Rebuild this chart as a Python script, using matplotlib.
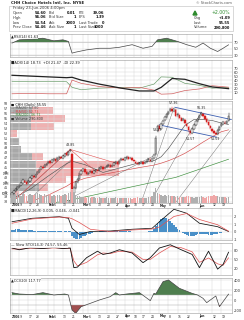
import matplotlib
matplotlib.use('Agg')
import matplotlib.pyplot as plt
from matplotlib.patches import Rectangle, Polygon
import numpy as np

# ---------------- data ----------------
date_ticks = [0, 4, 9, 13, 20, 23, 28, 33, 39, 42, 47, 52, 57, 62, 67, 71, 76, 81, 86, 91, 96, 103, 110, 115]
date_labels = ['2006', '9', '17', '23', 'Feb', '6', '13', '21', 'Mar', '6', '13', '20', '27',
               'Apr', '10', '17', '24', 'May', '8', '15', '22', 'Jun', '12', '19']
bold_labels = {'2006', 'Feb', 'Mar', 'Apr', 'May', 'Jun'}

close = [39.8,40.2,40.6,41.0,41.3,41.8,42.4,42.0,41.7,42.2, 42.8,43.2,43.0,43.5,44.0,44.6,45.2,45.0,45.6,45.8,
         46.2,46.0,46.5,46.8,46.4,46.9,47.2,46.9,47.3,47.8, 47.5,48.2,48.6,39.6,40.8,42.0,42.6,43.5,44.3,44.8,
         44.0,43.6,43.9,44.2,43.8,44.3,44.6,44.4,44.9,45.1, 44.8,45.0,45.3,45.6,45.2,45.4,45.9,46.2,45.8,46.4,
         46.8,46.5,46.9,47.2,46.8,47.0,46.6,46.3,46.0,45.7, 45.9,46.2,45.8,46.0,46.4,46.7,46.3,46.8,47.5,51.0,
         53.4,52.8,53.8,54.6,55.3,55.9,56.4,57.0,56.6,56.9, 55.6,55.9,55.2,54.6,54.9,54.0,53.4,52.6,52.0,52.8,
         53.6,54.4,55.0,55.6,56.1,55.6,55.0,54.3,53.6,53.0, 52.5,52.0,51.8,52.6,53.3,53.8,54.2,54.0,54.46,55.55]
open_ = [39.5,39.9,40.3,40.7,41.1,41.4,41.9,42.3,42.0,41.8, 42.3,42.9,43.2,43.1,43.6,44.1,44.7,45.1,45.1,45.6,
         45.9,46.3,46.1,46.6,46.8,46.5,47.0,47.2,47.0,47.4, 47.9,47.6,48.3,47.8,39.9,40.9,42.1,42.7,43.6,44.4,
         44.7,44.1,43.7,44.0,44.2,43.9,44.4,44.6,44.5,45.0, 45.1,44.9,45.1,45.4,45.6,45.3,45.5,46.0,46.1,45.9,
         46.5,46.8,46.6,47.0,47.1,46.9,47.0,46.5,46.2,45.9, 45.8,46.0,46.1,45.9,46.1,46.5,46.6,46.4,47.0,47.8,
         52.5,53.5,52.9,53.9,54.7,55.4,56.0,56.5,57.0,56.5, 56.8,55.7,55.8,55.1,54.7,54.8,53.9,53.3,52.5,52.1,
         52.9,53.7,54.5,55.1,55.7,56.0,55.5,55.0,54.2,53.5, 52.9,52.4,52.1,51.9,52.7,53.4,53.9,54.1,54.1,54.60]
high = [40.0,40.4,40.8,41.2,41.5,42.0,42.6,42.5,42.2,42.4, 43.0,43.4,43.4,43.7,44.2,44.8,45.4,45.4,45.8,46.0,
        46.4,46.5,46.7,47.0,47.0,47.1,47.4,47.4,47.5,48.0, 48.1,48.4,48.85,47.9,41.2,42.3,42.8,43.8,44.6,45.0,
        44.9,44.2,44.1,44.4,44.4,44.5,44.8,44.8,45.1,45.3, 45.3,45.2,45.5,45.8,45.8,45.6,46.1,46.4,46.3,46.6,
        47.0,47.0,47.1,47.4,47.3,47.2,47.2,46.6,46.4,46.1, 46.1,46.4,46.3,46.2,46.6,46.9,46.9,47.0,47.7,51.4,
        53.7,53.7,54.0,54.8,55.5,56.1,56.6,57.2,57.36,57.0, 57.0,56.1,56.0,55.3,55.1,55.0,54.1,53.5,52.7,53.0,
        53.8,54.6,55.2,55.8,56.35,56.2,55.7,55.2,54.4,53.7, 53.1,52.6,52.3,52.8,53.5,54.0,54.4,54.4,54.6,56.06]
low = [39.3,39.7,40.1,40.5,40.9,41.2,41.7,41.8,41.5,41.6, 42.1,42.7,42.8,42.9,43.4,43.9,44.5,44.8,44.9,45.4,
       45.7,45.8,45.9,46.4,46.2,46.3,46.8,46.7,46.8,47.2, 47.3,47.4,48.1,38.7,39.5,40.6,41.9,42.5,43.4,44.2,
       43.8,43.4,43.5,43.8,43.6,43.7,44.2,44.2,44.3,44.8, 44.6,44.7,44.9,45.2,45.0,45.1,45.3,45.8,45.6,45.7,
       46.3,46.3,46.4,46.8,46.6,46.7,46.4,46.1,45.8,45.5, 45.6,45.8,45.6,45.7,45.9,46.3,46.1,46.2,46.8,47.6,
       52.2,52.5,52.7,53.7,54.5,55.2,55.8,56.3,56.3,56.3, 55.4,55.3,55.0,54.4,54.4,53.8,53.2,52.3,51.57,51.9,
       52.7,53.5,54.3,54.9,55.5,55.4,54.8,54.1,53.4,52.8, 52.3,51.8,51.59,51.7,52.5,53.2,53.7,53.8,53.9,54.54]
volume_k = [420,380,450,500,400,380,520,460,350,400, 480,420,390,450,500,470,430,380,460,410,
            400,450,380,420,360,390,410,370,430,480, 420,500,560,720,540,420,380,350,330,300,
            320,280,300,260,290,310,270,250,300,280, 260,240,290,270,250,230,280,300,260,240,
            270,250,230,260,280,240,220,250,270,300, 260,240,280,250,230,300,320,380,560,760,
            520,450,400,380,420,360,390,340,380,350, 320,360,300,330,290,310,350,380,330,300,
            280,320,290,310,340,300,280,330,360,380, 350,400,380,340,300,320,290,310,280,291]
volume_ticks = [500, 1000, 1500]
volume_tick_labels = ['500K', '1.0M', '1.5M']

# volume by price zones (price bottom, price top), up volume, down volume (thousands)
vbp_bottom = [38.7, 40.26, 41.82, 43.37, 44.93, 46.49, 48.04, 49.6, 51.16, 52.71, 54.27, 55.83]
vbp_top =    [40.26, 41.82, 43.37, 44.93, 46.49, 48.04, 49.6, 51.16, 52.71, 54.27, 55.83, 57.38]
vbp_up =     [500, 2900, 2200, 2600, 2600, 2200, 1100, 900, 0, 2100, 2100, 2200]
vbp_down =   [400, 900, 3400, 8300, 8300, 1100, 0, 0, 700, 2300, 3400, 2100]

ma_idx = [0, 10, 20, 30, 33, 40, 50, 60, 70, 78, 82, 86, 90, 95, 100, 105, 110, 115, 119]
ma20 = [38.6, 40.6, 43.3, 45.8, 46.3, 45.6, 44.0, 45.0, 46.0, 46.4, 47.2, 48.9, 51.0, 53.6, 54.8, 54.8, 54.6, 54.1, 53.8]
ma50 = [37.0, 38.0, 39.4, 41.2, 41.9, 42.8, 43.6, 44.3, 45.0, 45.5, 45.9, 46.4, 47.0, 47.9, 49.0, 50.2, 51.3, 52.3, 52.7]
ma200_idx = [0, 30, 60, 90, 119]
ma200 = [36.5, 38.2, 40.6, 43.0, 46.7]

channel_upper = [(89.5, 57.3), (120.5, 54.8)]
channel_lower = [(81.0, 53.7), (112.5, 51.2)]
fan_lines = [[(0, 37.9), (32, 48.6)], [(8, 37.9), (33, 46.8)], [(33, 38.9), (79, 47.6)],
             [(71, 37.9), (89, 57.2)], [(76, 37.9), (104, 56.3)], [(90, 37.9), (120, 52.6)]]
red_fans = [[(32, 48.7), (59, 45.7)], [(32, 48.7), (47, 43.9)], [(0, 37.9), (32, 48.7)]]
price_marks = [(89, 57.36, '57.36', 'top'), (104, 56.35, '56.35', 'top'), (98, 51.57, '51.57', 'bot'),
               (112, 51.59, '51.59', 'bot'), (32, 48.85, '48.85', 'top'), (33, 38.7, '38.70', 'bot'),
               (80, 53.37, '53.37', 'bot')]

rsi_idx = [0, 4, 11, 17, 23, 28, 31, 33, 35, 41, 48, 54, 59, 66, 72, 77, 80, 85, 91, 96, 101, 105, 109, 113, 116, 119]
rsi = [67, 77, 79, 82, 74, 77, 72, 36, 39, 46, 51, 51, 54, 62, 51, 57, 77, 82, 72, 62, 54, 67, 51, 41, 51, 61.6]

adx_idx = [0, 10, 20, 30, 33, 38, 48, 60, 70, 78, 82, 88, 95, 103, 110, 119]
adx = [52, 50, 48, 46, 47, 40, 30, 20, 13, 13, 22, 44, 42, 31, 23, 18.7]
pdi = [37, 36, 37, 36, 22, 16, 20, 22, 20, 30, 48, 47, 32, 27, 20, 21.5]
mdi = [6, 7, 6, 6, 40, 32, 24, 20, 22, 15, 5, 6, 14, 18, 26, 22.4]

macd_idx = [0, 11, 26, 31, 33, 37, 43, 54, 66, 77, 81, 89, 96, 103, 113, 119]
macd = [1.3, 1.76, 1.97, 1.76, 0.43, -0.4, 0.0, 0.07, 0.3, 0.43, 1.3, 2.96, 2.43, 1.1, 0.64, 0.005]
signal = [1.1, 1.67, 1.93, 1.85, 1.7, 1.2, 0.3, 0.0, 0.2, 0.33, 0.6, 2.0, 2.4, 1.6, 0.9, 0.046]
hist = [0.2,0.25,0.3,0.3,0.28,0.25,0.22,0.2,0.18,0.15, 0.15,0.14,0.12,0.1,0.1,0.1,0.12,0.1,0.08,0.08,
        0.06,0.05,0.05,0.04,0.02,0.02,0.03,0.02,0.0,0.02, 0.02,0.05,0.08,
        -0.6,-0.9,-1.0,-1.05,-0.95,-0.8,-0.65,-0.55,-0.45,-0.35,-0.28,-0.2,-0.12,
        -0.05,0.0,0.03,0.05,0.06,0.07,0.08,0.06,0.05,0.05,0.06,0.08,0.06,0.08,0.1,0.1,0.09,0.08,0.06,0.03,
        0.0,-0.03,-0.06,-0.08,-0.08,-0.06,-0.04,-0.02,0.0,0.02,0.05,0.1,
        0.3,0.7,1.1,1.4,1.6,1.75,1.8,1.75,1.6,1.4,1.15,0.9,0.65,0.4,0.2,
        -0.05,-0.2,-0.35,-0.45,-0.55,-0.6,-0.6,-0.55,-0.45,-0.35,-0.3,-0.3,-0.32,-0.35,-0.38,-0.4,-0.42,-0.4,-0.38,-0.35,
        -0.3,-0.25,-0.18,-0.12,-0.08,-0.05,-0.04]

sto_idx = [0, 4, 10, 17, 23, 28, 32, 34, 36, 41, 47, 50, 54, 59, 66, 72, 76, 81, 87, 93, 99, 103, 108, 113, 116, 119]
sto_k = [89, 83, 90, 87, 91, 87, 89, 22, 24, 56, 78, 67, 72, 83, 72, 39, 56, 89, 100, 83, 67, 22, 78, 17, 33, 74.6]
sto_d = [86, 85, 88, 88, 89, 88, 87, 45, 28, 40, 66, 72, 70, 78, 75, 50, 50, 72, 94, 90, 76, 40, 55, 35, 30, 55.5]

cci_idx = [0, 4, 11, 17, 23, 29, 31, 33, 35, 38, 43, 48, 54, 57, 59, 63, 70, 73, 76, 78, 79, 83, 86, 92, 99, 102, 105, 107, 112, 114, 119]
cci = [147, 120, 107, 147, 100, 120, 100, -200, -267, -133, -67, 0, 67, 147, 100, 120, 147, 67, -13, 133, 120, 367, 400, 233, 133, 100, 33, -53, 80, -133, 118]

# ---------------- figure ----------------
W, H = 244, 320
fig = plt.figure(figsize=(W / 100, H / 100), dpi=100)
fig.patch.set_facecolor('white')
DFS = 2.2
GRID = '#d8d8d8'
XL = (-1.1, 120.9)


def ax_px(x0, y0, x1, y1):
    return fig.add_axes([x0 / W, 1 - y1 / H, (x1 - x0) / W, (y1 - y0) / H])


def style(ax, ylim, yticks, yticklabels=None, fs=2.6):
    ax.set_xlim(*XL)
    ax.set_ylim(*ylim)
    ax.set_xticks(date_ticks)
    ax.set_xticklabels([])
    ax.set_yticks(yticks)
    ax.set_yticklabels(yticklabels if yticklabels is not None else [str(t) for t in yticks])
    ax.yaxis.tick_right()
    ax.tick_params(axis='both', length=0, labelsize=fs, pad=1.5, colors='#333333')
    ax.grid(True, color=GRID, lw=0.35)
    ax.set_axisbelow(True)
    for s in ax.spines.values():
        s.set_color('#999999')
        s.set_linewidth(0.4)


def date_axis(y):
    for t, lab in zip(date_ticks, date_labels):
        xf = (12 + 1.82 * t) / W
        fig.text(xf, 1 - y / H, lab, fontsize=DFS, ha='left', va='center',
                 fontweight='bold' if lab in bold_labels else 'normal', color='#222222')


def label(ax, s):
    ax.text(0.004, 0.985, s, transform=ax.transAxes, fontsize=2.6, va='top', ha='left', color='#222222',
            bbox=dict(facecolor='white', edgecolor='none', pad=0.2, alpha=0.8))


# ---------------- header ----------------
hd = ax_px(8, 0, 234, 32)
hd.set_xlim(8, 234)
hd.set_ylim(32, 0)
hd.axis('off')
hd.add_patch(Rectangle((9, 6), 224, 25, fill=False, edgecolor='#bbbbbb', lw=0.4))
hd.text(11, 3, 'CHH Choice Hotels Intl, Inc. NYSE', fontsize=2.8, va='center', fontweight='bold', color='#222')
hd.text(232, 3, '© StockCharts.com', fontsize=2.6, va='center', ha='right', color='#555')
hd.text(13, 8.5, 'Friday 23-Jun-2006 4:00pm', fontsize=2.7, va='center', color='#333')
rows_y = [13, 17.5, 22.5, 27.5]
c1 = ['Open', 'High', 'Low', 'Prev Close']
v1 = ['54.60', '56.06', '54.54', '54.46']
c2 = ['Bid', 'Bid Size', 'Ask', 'Ask Size']
v2 = ['0.01', '1', '2000', '1']
c3 = ['P/E', 'EPS', 'Last Trade', 'Last Size']
v3 = ['39.06', '1.39', '0', '1000']
for y, a, b, c, d, e, f in zip(rows_y, c1, v1, c2, v2, c3, v3):
    hd.text(13, y, a, fontsize=2.6, va='center', color='#333')
    hd.text(46, y, b, fontsize=2.6, va='center', ha='right', fontweight='bold', color='#111')
    hd.text(49, y, c, fontsize=2.6, va='center', color='#333')
    hd.text(76, y, d, fontsize=2.6, va='center', ha='right', fontweight='bold', color='#111')
    hd.text(79, y, e, fontsize=2.6, va='center', color='#333')
    hd.text(104, y, f, fontsize=2.6, va='center', ha='right', fontweight='bold', color='#111')
hd.add_patch(Polygon([[193, 15], [197, 15], [195, 11]], closed=True, color='#2e8b2e'))
hd.text(230, 13, '+2.00%', fontsize=3.3, va='center', ha='right', color='#2e8b2e')
for y, a, b in zip([18, 22.5, 27.5], ['Chg', 'Last', 'Volume'], ['+1.09', '55.55', '290,800']):
    hd.text(194, y, a, fontsize=2.6, va='center', color='#333')
    hd.text(230, y, b, fontsize=2.6, va='center', ha='right', fontweight='bold', color='#111')

# ---------------- RSI ----------------
ax = ax_px(10, 34, 232, 57)
style(ax, (24, 95), [30, 50, 70])
ax.axhline(70, color='#bbbbbb', lw=0.4)
ax.axhline(30, color='#bbbbbb', lw=0.4)
r = np.array(rsi, dtype=float)
ax.fill_between(rsi_idx, r, 70, where=r >= 70, interpolate=True, color='#4f7f4f', lw=0)
ax.fill_between(rsi_idx, r, 30, where=r <= 30, interpolate=True, color='#b05050', lw=0)
ax.plot(rsi_idx, r, color='#444444', lw=0.5)
label(ax, '▲RSI(14) 61.63')

# ---------------- ADX ----------------
ax = ax_px(10, 60, 232, 99)
style(ax, (-7, 90), [10, 20, 30, 40, 50, 60, 70])
ax.plot(adx_idx, pdi, color='#70a070', lw=0.5)
ax.plot(adx_idx, mdi, color='#d06060', lw=0.5)
ax.plot(adx_idx, adx, color='#222222', lw=0.9)
label(ax, '■ADX(14) 18.73  +DI 21.47  -DI 22.39')

# ---------------- price ----------------
ax = ax_px(10, 101, 232, 203)
pl = (37.77, 58.58)
style(ax, pl, list(range(38, 59)), fs=2.3)

# volume-by-price
av = ax.twiny()
av.set_xlim(0, 22200)
av.set_ylim(*pl)
av.axis('off')
for b, t, u, d in zip(vbp_bottom, vbp_top, vbp_up, vbp_down):
    hgt = (t - b) * 0.92
    av.barh(b, u, height=hgt, left=0, align='edge', color='#a8a8a8', lw=0, zorder=0)
    av.barh(b, d, height=hgt, left=u, align='edge', color='#efb1b1', lw=0, zorder=0)
av.set_zorder(0)
ax.set_zorder(1)
ax.patch.set_alpha(0)

# volume (left axis labels)
vv = ax.twinx()
vv.set_xlim(*XL)
vv.set_ylim(0, 5200)
vv.yaxis.tick_left()
vv.set_yticks(volume_ticks)
vv.set_yticklabels(volume_tick_labels)
vv.tick_params(axis='y', length=0, labelsize=1.9, pad=0.8, colors='#333333')
vv.tick_params(axis='x', length=0, labelbottom=False, labeltop=False)
for s in vv.spines.values():
    s.set_visible(False)
vv.patch.set_alpha(0)
for i, v in enumerate(volume_k):
    up = i == 0 or close[i] >= close[i - 1]
    vv.bar(i, v, width=0.8, color='#b0b0b0' if up else '#f0a8a8', lw=0)

ax.plot(ma_idx, ma20, color='#555555', lw=0.45, zorder=3)
ax.plot(ma_idx, ma50, color='#d44a4a', lw=0.45, zorder=3)
ax.plot(ma200_idx, ma200, color='#3c8f3c', lw=0.45, zorder=3)
for (a, b) in fan_lines:
    ax.plot([a[0], b[0]], [a[1], b[1]], color='#666666', lw=0.3, zorder=3)
for (a, b) in red_fans:
    ax.plot([a[0], b[0]], [a[1], b[1]], color='#e05050', lw=0.4, zorder=3)
for seg in (channel_upper, channel_lower):
    ax.plot([seg[0][0], seg[1][0]], [seg[0][1], seg[1][1]], color='#3d5fb0', lw=0.6, zorder=4)

for i in range(len(close)):
    o, h, l, c = open_[i], high[i], low[i], close[i]
    down = i > 0 and c < close[i - 1]
    col = '#d62020' if down else '#111111'
    ax.plot([i, i], [l, h], color=col, lw=0.35, zorder=5)
    hollow = c >= o
    bb = min(o, c)
    bh = max(abs(c - o), 0.08)
    ax.add_patch(Rectangle((i - 0.4, bb), 0.8, bh, facecolor='white' if hollow else col,
                           edgecolor=col, lw=0.3, zorder=6))
for xi, p, s, pos in price_marks:
    ax.text(xi, p + (0.35 if pos == 'top' else -0.35), s, fontsize=2.3, ha='center',
            va='bottom' if pos == 'top' else 'top', color='#222', zorder=7)

leg_items = [('■ CHH (Daily) 55.55', '#111'), ('— MA(20) 53.80', '#555'), ('— MA(50) 52.73', '#d44a4a'),
             ('— MA(200) 46.71', '#3c8f3c'), ('■ Volume 290,800', '#333')]
for k, (s, c) in enumerate(leg_items):
    ax.text(0.004, 0.985 - k * 0.035, s, transform=ax.transAxes, fontsize=2.4, va='top', color=c, zorder=8)

date_axis(205.5)

# ---------------- MACD ----------------
ax = ax_px(10, 208, 232, 240)
style(ax, (-1.13, 3.13), [-1, 0, 1, 2])
ax.bar(range(len(hist)), hist, width=0.9, color='#4a90c8', lw=0)
ax.plot(macd_idx, macd, color='#111111', lw=0.55)
ax.plot(macd_idx, signal, color='#e05050', lw=0.5)
label(ax, '■MACD(12,26,9) 0.005, 0.046, -0.041')

# ---------------- Slow STO ----------------
ax = ax_px(10, 243, 232, 275)
style(ax, (-3, 106), [20, 50, 80])
ax.plot(sto_idx, sto_d, color='#e05050', lw=0.5)
ax.plot(sto_idx, sto_k, color='#111111', lw=0.6)
label(ax, '— Slow STO(14,3) 74.57, 55.46')

# ---------------- CCI ----------------
ax = ax_px(10, 278, 232, 313)
style(ax, (-260, 440), [-200, 0, 200, 400])
ax.axhline(100, color='#aaaaaa', lw=0.35)
ax.axhline(-100, color='#aaaaaa', lw=0.35)
cc = np.array(cci, dtype=float)
ax.fill_between(cci_idx, cc, 100, where=cc >= 100, interpolate=True, color='#4f7f4f', lw=0)
ax.fill_between(cci_idx, cc, -100, where=cc <= -100, interpolate=True, color='#a05050', lw=0)
ax.plot(cci_idx, cc, color='#444444', lw=0.5)
label(ax, '▲CCI(20) 117.77')

date_axis(316.5)

fig.savefig('out.png', dpi=100, facecolor='white')
